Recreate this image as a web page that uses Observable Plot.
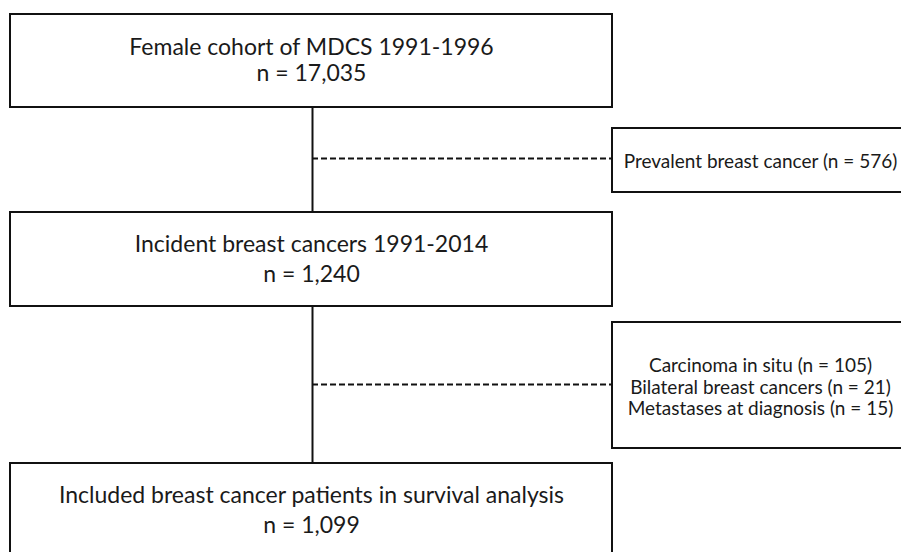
<!DOCTYPE html>
<html>
<head>
<meta charset="utf-8">
<script src="https://cdn.jsdelivr.net/npm/d3@7"></script>
<script src="https://cdn.jsdelivr.net/npm/@observablehq/plot@0.6"></script>
<style>
  html, body { margin: 0; padding: 0; background: #fff; }
</style>
</head>
<body>
<div id="chart"></div>
<script>
// ---- Content (data) ----
const mainTitles = [
  "Female cohort of MDCS 1991-1996",
  "Incident breast cancers 1991-2014",
  "Included breast cancer patients in survival analysis"
];
const mainCounts = ["17,035", "1,240", "1,099"];
const exclusionLines = [
  ["Prevalent breast cancer (n = 576)"],
  ["Carcinoma in situ (n = 105)", "Bilateral breast cancers (n = 21)", "Metastases at diagnosis (n = 15)"]
];

// ---- Layout (pixel-space scale coordinates) ----
const mainBoxY = [[14, 107], [212, 306], [463, 580]];
const mainX = [10, 612];
const spineX = 312;
const sideX = [612, 920];
const sideBoxY = [[128, 192], [322, 448]];
const dashY = [158, 384];

const W = 901, H = 552;

const mainRects = mainBoxY.map(([y1, y2]) => ({x1: mainX[0], x2: mainX[1], y1, y2}));
const sideRects = sideBoxY.map(([y1, y2]) => ({x1: sideX[0], x2: sideX[1], y1, y2}));
const connectors = [
  {y1: mainBoxY[0][1], y2: mainBoxY[1][0]},
  {y1: mainBoxY[1][1], y2: mainBoxY[2][0]}
];
const dashes = dashY.map(y => ({x1: spineX, x2: sideX[0], y}));

const mainText = [];
mainTitles.forEach((t, i) => {
  mainText.push({x: (mainX[0] + mainX[1]) / 2, y: [47, 244, 495][i], text: t});
  mainText.push({x: (mainX[0] + mainX[1]) / 2, y: [73, 274, 525][i], text: "n = " + mainCounts[i]});
});
const sideText = [];
const sideCenters = [161, 387];
exclusionLines.forEach((lines, i) => {
  lines.forEach((t, j) => {
    sideText.push({x: 760, y: sideCenters[i] + (j - (lines.length - 1) / 2) * 21.5, text: t});
  });
});

const chart = Plot.plot({
  width: W,
  height: H,
  margin: 0,
  x: {domain: [0, W], range: [0, W], axis: null},
  y: {domain: [0, H], range: [0, H], axis: null},
  style: {fontFamily: "Lato, 'Open Sans', sans-serif", background: "#fff"},
  marks: [
    Plot.rect(mainRects, {x1: "x1", x2: "x2", y1: "y1", y2: "y2", fill: "white", stroke: "#111", strokeWidth: 2}),
    Plot.rect(sideRects, {x1: "x1", x2: "x2", y1: "y1", y2: "y2", fill: "white", stroke: "#111", strokeWidth: 2}),
    Plot.ruleX(connectors, {x: () => spineX, y1: "y1", y2: "y2", stroke: "#111", strokeWidth: 2}),
    Plot.ruleY(dashes, {y: "y", x1: "x1", x2: "x2", stroke: "#111", strokeWidth: 2, strokeDasharray: "6,3"}),
    Plot.text(mainText, {x: "x", y: "y", text: "text", fontSize: 23, fill: "#1a1a1a", textAnchor: "middle"}),
    Plot.text(sideText, {x: "x", y: "y", text: "text", fontSize: 19, fill: "#1a1a1a", textAnchor: "middle"})
  ]
});
document.getElementById("chart").appendChild(chart);
</script>
</body>
</html>
